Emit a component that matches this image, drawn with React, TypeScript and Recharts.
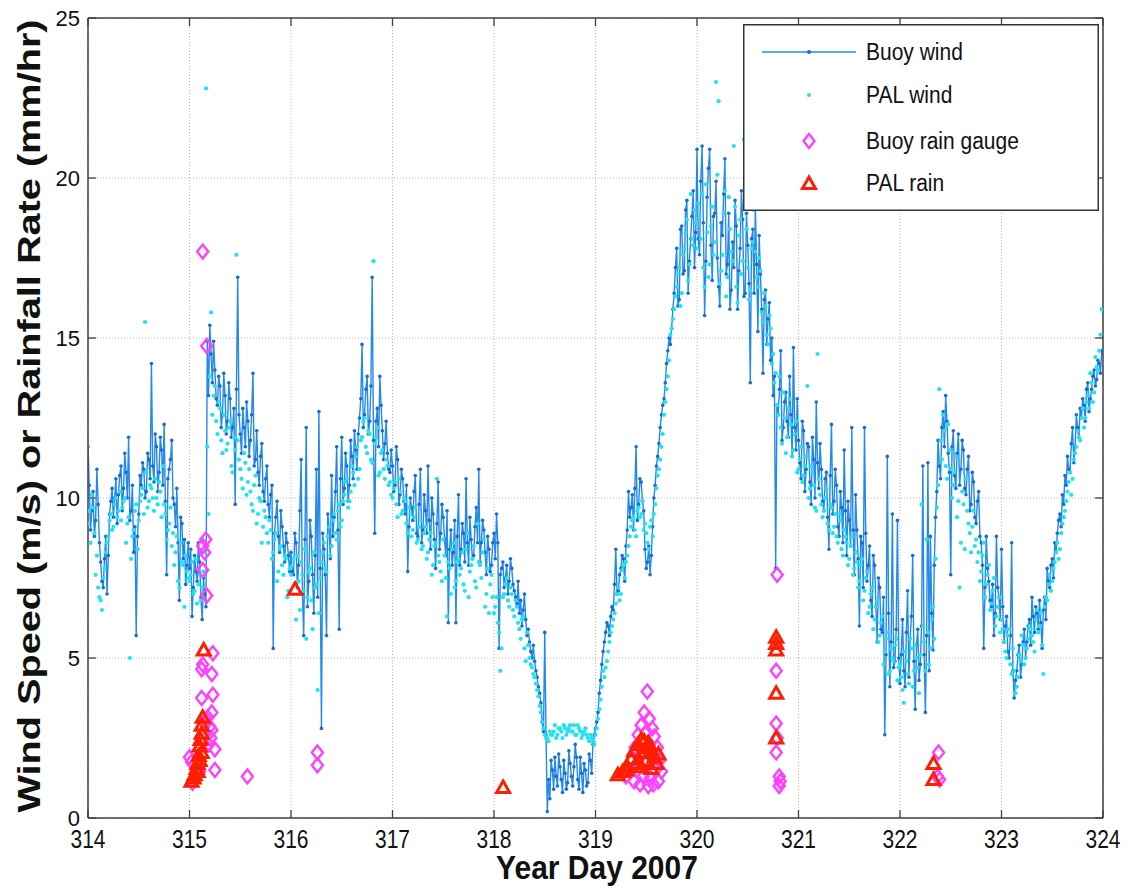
import React from 'react';
import { ComposedChart, Line, Scatter, XAxis, YAxis, CartesianGrid, ReferenceLine } from 'recharts';

// ---------- data ----------
const STEP = 0.025;
const startDays = [314, 315, 316, 317, 318, 319, 320, 321, 322, 323];
const xTicks = [314, 315, 316, 317, 318, 319, 320, 321, 322, 323, 324];
const yTicks = [0, 5, 10, 15, 20, 25];

// Buoy wind (m/s), samples at day + k*0.025
const buoy314 = [11.6, 9.0, 10.2, 9.3, 9.8, 8.0, 7.2, 8.8, 8.2, 9.9, 9.4, 10.6, 10.1, 11.0, 10.3, 10.8, 11.9, 9.6, 8.3, 5.7, 9.5, 10.4, 10.9, 10.2, 11.2, 14.2, 10.5, 11.6, 10.8, 11.5, 12.3, 7.6, 10.9, 11.8, 9.8, 10.3, 6.8, 9.2, 8.7, 7.9];
const buoy315 = [7.8, 6.3, 8.2, 7.4, 8.0, 6.2, 7.0, 14.9, 15.4, 13.6, 14.0, 12.9, 13.5, 12.6, 13.2, 12.4, 13.1, 12.2, 9.8, 16.9, 12.0, 12.8, 11.6, 12.4, 11.8, 13.9, 11.2, 10.8, 11.3, 10.2, 10.6, 9.8, 10.1, 5.3, 9.4, 8.8, 9.6, 8.5, 8.9, 8.2];
const buoy316 = [8.3, 7.6, 8.6, 7.9, 11.2, 5.7, 12.2, 7.4, 8.8, 6.4, 10.9, 12.7, 2.8, 8.4, 5.7, 9.1, 10.7, 9.4, 11.6, 5.9, 11.9, 10.3, 11.0, 10.4, 11.3, 12.1, 10.9, 12.5, 14.8, 12.6, 13.8, 12.4, 16.9, 8.9, 12.8, 13.8, 12.1, 11.7, 11.4, 10.8];
const buoy317 = [11.0, 10.4, 11.2, 10.1, 10.6, 9.5, 7.7, 10.0, 9.3, 10.7, 8.8, 10.9, 9.0, 9.6, 11.0, 8.4, 9.5, 7.8, 10.5, 8.9, 9.4, 8.2, 6.1, 9.0, 8.3, 6.1, 10.1, 8.4, 8.9, 10.6, 7.9, 8.7, 8.2, 9.7, 10.9, 8.6, 9.0, 7.6, 8.4, 7.9];
const buoy318 = [8.9, 9.5, 5.3, 7.8, 7.2, 7.9, 7.4, 7.8, 7.1, 6.7, 6.4, 6.0, 7.0, 5.7, 5.5, 5.0, 4.9, 4.4, 3.9, 3.0, 5.8, 0.2, 0.6, 1.5, 1.9, 1.0, 1.6, 0.8, 1.4, 1.1, 1.7, 1.0, 2.3, 1.2, 1.9, 0.8, 1.5, 1.1, 1.8, 2.3];
const buoy319 = [2.8, 3.3, 4.3, 5.2, 5.8, 6.0, 6.3, 6.5, 8.4, 7.1, 7.8, 8.1, 8.5, 10.2, 9.7, 9.0, 11.6, 9.8, 10.5, 9.6, 7.8, 8.5, 8.2, 10.0, 11.0, 11.7, 12.6, 13.1, 14.2, 15.0, 15.3, 16.4, 17.8, 16.2, 18.5, 17.1, 19.3, 17.4, 18.8, 17.2];
const buoy320 = [20.9, 17.6, 21.0, 15.7, 19.4, 20.9, 16.8, 18.9, 17.5, 16.0, 18.2, 20.6, 17.3, 15.9, 18.0, 19.3, 15.9, 17.8, 18.7, 16.4, 17.9, 13.6, 18.4, 19.1, 15.2, 17.0, 13.9, 16.5, 15.6, 14.3, 13.2, 7.8, 12.6, 14.6, 12.2, 13.3, 11.9, 12.6, 14.7, 11.5];
const buoy321 = [11.8, 10.6, 12.1, 10.9, 11.6, 9.8, 11.2, 13.0, 10.3, 10.9, 9.6, 10.8, 8.4, 12.3, 9.9, 10.4, 8.8, 9.7, 11.5, 8.2, 9.3, 12.2, 7.6, 9.0, 6.0, 8.6, 12.2, 7.4, 8.5, 6.3, 7.9, 5.5, 7.2, 5.8, 2.6, 11.3, 4.1, 9.5, 4.9, 9.3];
const buoy322 = [4.2, 6.2, 4.1, 7.1, 5.6, 8.2, 3.4, 5.9, 4.8, 11.0, 3.3, 11.1, 8.8, 5.25, 9.4, 11.8, 10.6, 12.7, 13.2, 11.4, 7.6, 12.1, 10.3, 12.0, 10.9, 11.5, 10.1, 11.3, 9.8, 10.5, 9.2, 10.2, 8.6, 5.3, 8.8, 7.4, 6.6, 5.7, 8.8, 6.9];
const buoy323 = [8.4, 5.5, 6.3, 5.0, 8.6, 3.75, 4.6, 5.4, 4.8, 5.9, 5.5, 6.2, 6.9, 5.8, 6.4, 6.8, 5.3, 6.9, 7.8, 7.2, 8.1, 8.6, 8.9, 9.5, 10.1, 10.7, 11.3, 10.8, 12.2, 11.6, 12.2, 12.8, 13.1, 12.4, 13.6, 13.1, 13.8, 13.5, 14.3, 13.9];
const buoyLast = 14.5;

// Buoy wind (m/s), samples at day + 0.0125 + k*0.025
const buoyMid314 = [10.4, 9.6, 8.8, 10.9, 8.6, 7.4, 8.1, 7.0, 9.5, 10.3, 10.0, 9.2, 10.7, 9.6, 11.4, 10.0, 9.3, 10.4, 9.1, 8.8, 10.7, 11.1, 10.0, 11.4, 10.6, 11.0, 12.0, 10.2, 11.9, 10.4, 9.9, 10.6, 11.2, 10.0, 9.1, 8.6, 9.4, 8.1, 7.3, 8.6];
const buoyMid315 = [8.4, 7.2, 7.7, 8.6, 6.9, 7.5, 6.6, 13.2, 14.5, 14.9, 13.1, 13.8, 12.2, 13.9, 12.0, 13.6, 11.9, 12.8, 13.4, 12.6, 11.4, 12.2, 13.0, 11.3, 12.6, 11.0, 12.1, 10.4, 11.7, 9.9, 11.0, 9.4, 10.4, 8.9, 9.9, 8.3, 9.1, 8.0, 8.6, 7.7];
const buoyMid316 = [7.7, 8.9, 7.2, 9.6, 7.0, 8.7, 6.6, 9.3, 7.6, 8.2, 6.9, 7.8, 8.9, 7.6, 9.5, 8.1, 8.8, 10.2, 9.0, 10.6, 9.8, 11.4, 9.9, 11.8, 10.6, 11.5, 12.0, 13.1, 12.2, 13.4, 12.0, 13.5, 11.8, 12.4, 11.6, 12.9, 11.2, 12.4, 10.9, 11.5];
const buoyMid317 = [10.2, 11.6, 9.8, 10.9, 9.9, 10.4, 9.1, 9.7, 10.2, 8.9, 9.8, 8.6, 10.1, 8.9, 9.3, 10.0, 8.7, 9.2, 8.4, 9.8, 8.7, 9.6, 8.4, 7.9, 9.3, 8.8, 7.9, 9.2, 8.0, 8.6, 9.4, 8.1, 9.1, 8.6, 8.0, 9.3, 8.3, 8.8, 7.7, 8.6];
const buoyMid318 = [8.1, 8.6, 7.6, 8.0, 7.5, 7.0, 8.1, 7.3, 6.9, 7.4, 6.8, 6.5, 6.2, 5.9, 5.2, 5.4, 4.6, 4.1, 3.6, 2.7, 2.6, 1.2, 1.8, 0.9, 1.3, 2.0, 1.2, 1.8, 0.9, 2.1, 1.3, 1.6, 1.9, 0.9, 1.4, 1.7, 1.0, 2.0, 1.4, 2.6];
const buoyMid319 = [3.0, 3.9, 4.8, 5.5, 6.1, 5.7, 6.6, 7.3, 7.0, 7.6, 8.2, 7.4, 9.0, 9.4, 10.1, 10.3, 9.3, 10.6, 9.9, 8.4, 8.0, 7.6, 9.1, 10.4, 11.3, 12.2, 12.9, 13.6, 14.6, 14.8, 15.9, 17.2, 16.0, 18.4, 17.0, 19.0, 16.4, 18.1, 19.6, 18.3];
const buoyMid320 = [18.1, 19.9, 18.6, 17.4, 20.3, 17.9, 18.8, 19.9, 16.6, 18.6, 19.5, 17.0, 18.9, 16.5, 17.2, 18.5, 17.1, 19.6, 16.3, 18.9, 16.7, 18.1, 16.4, 17.3, 18.2, 15.9, 16.2, 14.8, 16.1, 15.0, 13.8, 12.9, 13.4, 11.8, 13.0, 12.4, 13.8, 11.3, 12.2, 13.1];
const buoyMid321 = [11.1, 12.4, 10.2, 11.7, 10.5, 11.9, 10.0, 11.1, 11.7, 9.9, 10.6, 9.4, 10.7, 9.5, 10.9, 9.1, 10.2, 8.6, 9.6, 9.9, 8.5, 9.0, 10.1, 8.1, 8.8, 7.2, 8.9, 7.9, 6.8, 8.2, 6.6, 7.5, 5.9, 6.9, 5.1, 6.4, 5.5, 4.7, 5.9, 5.0];
const buoyMid322 = [5.1, 4.6, 5.8, 4.4, 6.3, 4.9, 5.4, 4.3, 6.0, 5.1, 5.7, 4.6, 6.4, 7.9, 10.2, 11.0, 12.2, 11.6, 12.4, 10.8, 11.6, 10.7, 11.4, 10.4, 11.8, 10.3, 10.9, 9.6, 10.8, 9.4, 9.9, 8.8, 7.9, 7.2, 7.8, 6.8, 7.3, 6.4, 7.2, 6.2];
const buoyMid323 = [6.6, 6.0, 5.2, 5.7, 4.6, 4.3, 5.1, 4.4, 5.5, 5.0, 6.0, 5.4, 6.3, 6.6, 5.9, 6.1, 6.5, 6.2, 7.4, 7.9, 7.5, 8.3, 9.3, 9.1, 9.8, 10.4, 10.9, 11.7, 11.1, 12.6, 11.9, 12.5, 12.9, 13.4, 12.7, 13.4, 14.0, 13.7, 14.2, 14.6];

// PAL wind (m/s), samples at day + 0.0125 + k*0.025
const pal314 = [9.6, 10.1, 8.9, 8.2, 6.9, 6.5, 7.8, 8.6, 9.3, 9.0, 9.8, 9.4, 10.2, 9.7, 10.0, 9.2, 5.0, 8.8, 9.6, 8.4, 9.9, 10.3, 15.5, 9.7, 10.4, 10.0, 10.6, 9.8, 10.2, 11.0, 9.5, 9.0, 9.7, 8.9, 8.3, 7.4, 8.6, 7.9, 8.2, 7.5];
const pal315 = [7.6, 7.0, 8.1, 7.3, 6.8, 7.7, 22.8, 9.5, 15.8, 13.2, 12.4, 13.0, 11.8, 12.6, 11.5, 12.2, 11.0, 11.9, 17.6, 11.2, 10.6, 11.4, 10.1, 10.9, 9.8, 10.4, 9.2, 10.0, 8.6, 9.6, 8.9, 9.3, 8.1, 8.7, 7.4, 8.4, 7.9, 8.2, 6.9, 7.8];
const pal316 = [7.9, 7.3, 8.2, 6.5, 7.6, 8.4, 6.9, 7.8, 5.9, 7.2, 4.0, 7.5, 8.3, 7.8, 8.8, 8.2, 9.3, 8.9, 9.6, 9.1, 9.9, 10.5, 9.7, 10.2, 10.8, 11.3, 10.6, 11.8, 12.4, 11.6, 12.1, 11.2, 17.4, 11.9, 10.7, 11.4, 10.9, 11.2, 10.4, 10.1];
const pal317 = [10.3, 9.8, 10.6, 9.5, 10.0, 9.2, 9.7, 8.8, 9.4, 8.6, 9.1, 8.4, 8.9, 8.1, 8.7, 7.6, 8.5, 10.6, 8.0, 7.4, 8.2, 6.3, 7.8, 8.4, 7.2, 8.0, 7.6, 8.3, 7.1, 8.9, 7.7, 8.1, 7.4, 9.2, 7.9, 8.3, 6.6, 7.8, 7.3, 6.9];
const pal318 = [6.6, 6.1, 4.6, 6.9, 7.3, 6.8, 7.2, 6.5, 6.8, 6.1, 5.6, 6.3, 4.9, 5.4, 4.8, 4.5, 4.2, 3.8, 3.3, 2.8, 2.5, 2.4, 2.6, 2.7, 2.5, 2.8, 2.7, 2.9, 2.6, 2.8, 2.7, 2.9, 2.6, 2.8, 2.5, 2.7, 2.6, 2.4, 2.5, 2.3];
const pal319 = [2.8, 3.4, 4.1, 4.4, 4.9, 5.5, 6.0, 6.4, 7.0, 6.8, 7.75, 7.5, 8.2, 8.8, 9.3, 9.0, 9.6, 9.4, 9.9, 9.2, 8.6, 9.1, 8.8, 9.8, 10.7, 11.2, 12.0, 13.0, 13.8, 15.1, 15.6, 16.3, 17.0, 16.0, 17.6, 18.3, 16.8, 19.5, 17.9, 18.6];
const pal320 = [19.2, 18.1, 17.2, 19.8, 16.9, 18.5, 17.6, 23.0, 22.4, 17.1, 18.9, 16.3, 19.4, 17.7, 21.0, 16.6, 18.2, 17.0, 21.2, 18.4, 16.2, 17.8, 19.0, 16.9, 17.5, 15.8, 16.4, 15.1, 15.7, 14.2, 13.6, 12.9, 13.8, 11.7, 12.5, 11.9, 13.1, 11.3, 12.0, 10.8];
const pal321 = [11.2, 10.5, 11.0, 13.5, 10.3, 10.8, 9.7, 14.5, 10.1, 9.4, 10.0, 9.2, 9.8, 8.9, 9.5, 8.6, 9.3, 8.2, 8.8, 7.9, 8.5, 7.6, 8.3, 7.2, 7.9, 6.8, 7.5, 6.4, 7.0, 5.9, 6.6, 5.5, 6.1, 4.8, 5.6, 4.5, 5.3, 4.9, 5.6, 4.7];
const pal322 = [4.4, 3.6, 4.9, 4.2, 5.3, 4.6, 5.0, 3.9, 9.8, 5.5, 8.7, 4.8, 6.2, 5.6, 9.7, 13.4, 11.2, 12.1, 10.6, 11.5, 10.0, 10.8, 9.4, 7.2, 10.2, 8.4, 9.6, 8.9, 9.1, 8.5, 8.0, 7.4, 8.2, 6.9, 7.6, 6.5, 7.1, 6.0, 6.6, 5.8];
const pal323 = [5.9, 5.2, 5.7, 4.8, 5.3, 3.9, 4.4, 4.9, 5.4, 5.0, 5.6, 5.9, 5.5, 6.2, 5.8, 6.4, 4.5, 6.9, 7.3, 7.1, 7.8, 8.3, 8.1, 8.9, 9.4, 9.9, 10.5, 10.1, 11.2, 11.6, 11.9, 12.5, 12.2, 13.0, 12.8, 13.6, 13.3, 14.1, 14.6, 15.9];

// PAL wind (m/s), samples at day + k*0.025
const palB314 = [9.2, 8.6, 9.7, 7.6, 7.2, 6.8, 7.5, 8.3, 8.8, 9.5, 9.1, 10.0, 9.6, 9.3, 9.9, 8.6, 9.4, 8.1, 9.0, 9.8, 9.3, 10.1, 9.5, 10.8, 9.9, 10.3, 9.6, 10.0, 10.5, 9.4, 9.8, 8.7, 9.2, 8.5, 7.9, 8.8, 7.2, 8.0, 6.6, 7.7];
const palB315 = [7.4, 8.0, 7.1, 6.7, 7.6, 7.2, 8.3, 11.6, 13.8, 12.6, 13.5, 12.0, 12.8, 11.4, 12.1, 11.7, 12.4, 10.8, 11.5, 11.8, 10.9, 10.3, 11.1, 10.5, 10.2, 9.6, 10.7, 9.5, 9.9, 9.1, 9.4, 8.6, 9.0, 8.3, 8.9, 7.7, 8.5, 7.6, 8.1, 7.1];
const palB316 = [7.6, 8.1, 6.2, 7.4, 8.0, 7.1, 5.6, 7.7, 6.8, 8.3, 7.3, 6.4, 8.0, 8.6, 7.7, 9.1, 8.5, 9.5, 8.7, 9.8, 9.3, 10.1, 10.6, 9.9, 11.0, 10.4, 11.6, 10.9, 11.9, 12.5, 11.4, 12.0, 11.1, 11.7, 12.2, 10.8, 11.5, 10.6, 11.0, 10.5];
const palB317 = [10.0, 10.5, 9.4, 10.2, 9.6, 9.9, 8.9, 9.5, 9.0, 9.7, 8.7, 9.3, 8.5, 9.1, 8.3, 8.9, 7.9, 8.6, 8.2, 7.7, 8.7, 7.5, 8.0, 7.0, 8.6, 7.4, 8.1, 7.8, 7.3, 8.4, 6.9, 7.9, 8.5, 7.2, 8.0, 7.5, 8.7, 7.0, 6.4, 7.6];
const palB318 = [6.4, 6.9, 5.8, 5.3, 7.0, 7.5, 6.6, 7.0, 6.3, 6.6, 5.9, 6.2, 5.3, 5.8, 5.0, 4.7, 4.4, 4.0, 3.5, 3.0, 2.6, 2.5, 2.7, 2.6, 2.9, 2.6, 2.8, 2.5, 2.8, 2.7, 2.9, 2.7, 2.6, 2.9, 2.7, 2.6, 2.8, 2.5, 2.6, 2.4];
const palB319 = [2.6, 3.1, 3.7, 4.6, 4.7, 5.2, 5.8, 6.2, 6.7, 7.2, 7.0, 7.9, 8.0, 8.5, 9.1, 9.4, 8.8, 9.7, 9.5, 9.0, 8.9, 8.4, 9.3, 9.5, 10.3, 10.9, 11.6, 12.6, 13.4, 14.3, 15.3, 15.9, 16.6, 17.2, 16.4, 17.8, 18.7, 17.3, 18.1, 19.0];
const palB320 = [17.8, 18.8, 19.5, 16.6, 18.3, 17.3, 19.1, 18.0, 20.1, 16.7, 17.6, 19.6, 16.9, 18.4, 17.4, 19.1, 16.1, 18.7, 17.4, 19.8, 17.2, 16.5, 18.0, 17.7, 16.6, 17.1, 15.5, 16.0, 14.8, 15.3, 14.5, 13.9, 12.6, 12.2, 13.3, 11.4, 12.8, 12.3, 11.5, 12.4];
const palB321 = [10.9, 11.6, 10.7, 11.3, 10.0, 11.0, 10.4, 9.6, 10.6, 9.8, 9.6, 10.3, 9.0, 9.7, 9.1, 8.8, 9.5, 8.4, 9.0, 8.6, 8.1, 8.8, 7.8, 8.0, 7.4, 8.1, 7.1, 7.7, 6.6, 7.2, 6.2, 6.8, 5.7, 6.3, 5.2, 5.8, 4.6, 5.0, 5.4, 4.3];
const palB322 = [4.8, 4.0, 5.2, 4.5, 5.6, 4.1, 5.4, 4.7, 5.1, 6.0, 4.6, 5.8, 5.3, 6.6, 8.1, 10.4, 11.8, 12.6, 11.0, 12.3, 10.9, 10.4, 11.3, 9.9, 8.6, 9.8, 10.6, 9.2, 8.3, 9.6, 8.7, 8.3, 7.7, 8.6, 7.3, 7.9, 6.7, 7.5, 6.3, 6.9];
const palB323 = [6.2, 5.5, 5.0, 5.9, 4.5, 4.6, 4.1, 5.1, 5.7, 4.8, 5.3, 6.0, 5.7, 5.2, 6.5, 6.0, 5.4, 6.6, 6.8, 7.6, 7.4, 8.0, 8.6, 8.4, 9.2, 9.6, 10.2, 10.8, 10.6, 11.4, 12.1, 11.8, 12.8, 12.5, 13.2, 13.9, 13.0, 14.4, 14.0, 15.1];

// Buoy rain gauge (mm/hr)
const gaugeDays = [315.13, 315.17, 315.16, 315.13, 315.15, 315.13, 315.17, 315.23, 315.13, 315.12, 315.22, 315.23, 315.12, 315.22, 315.20, 315.22, 315.21, 315.19, 315.25, 315.16, 315.18, 315.00, 315.02, 315.08, 315.10, 315.25, 315.03, 315.06, 315.57, 316.26, 316.26, 319.51, 319.48, 319.53, 319.45, 319.56, 319.50, 319.42, 319.58, 319.47, 319.53, 319.39, 319.61, 319.44, 319.56, 319.36, 319.63, 319.50, 319.33, 319.41, 319.59, 319.65, 319.47, 319.54, 319.30, 319.38, 319.62, 319.44, 319.52, 319.57, 320.79, 320.78, 320.78, 320.79, 320.78, 320.81, 320.82, 320.81, 322.38, 322.37, 322.39];
const gaugeRates = [17.7, 14.75, 8.7, 8.5, 8.3, 7.75, 6.95, 5.15, 4.8, 4.65, 4.5, 3.85, 3.75, 3.3, 2.85, 2.75, 2.5, 2.3, 2.15, 2.95, 3.15, 1.9, 1.75, 1.65, 1.45, 1.5, 1.1, 1.25, 1.3, 2.05, 1.65, 3.95, 3.3, 3.1, 2.9, 2.8, 2.7, 2.6, 2.55, 2.4, 2.3, 2.2, 2.2, 2.0, 1.95, 1.8, 1.8, 1.7, 1.5, 1.5, 1.5, 1.45, 1.3, 1.25, 1.3, 1.15, 1.15, 1.05, 1.0, 1.05, 7.6, 4.6, 2.95, 2.5, 2.05, 1.3, 1.15, 1.0, 2.05, 1.3, 1.2];

// PAL rain (mm/hr)
const palRainDays = [315.14, 315.13, 315.12, 315.12, 315.11, 315.10, 315.12, 315.09, 315.10, 315.08, 315.07, 315.08, 315.05, 315.04, 315.02, 316.04, 318.09, 319.22, 319.27, 319.31, 319.35, 319.38, 319.42, 319.45, 319.48, 319.50, 319.52, 319.55, 319.58, 319.60, 319.49, 319.45, 319.40, 319.55, 319.62, 319.47, 319.30, 320.78, 320.78, 320.78, 320.78, 320.78, 322.33, 322.33];
const palRainRates = [5.25, 3.15, 2.9, 2.65, 2.45, 2.25, 2.05, 1.95, 1.8, 1.7, 1.55, 1.45, 1.35, 1.25, 1.15, 7.15, 0.95, 1.35, 1.45, 1.6, 1.85, 2.1, 2.3, 2.45, 2.4, 2.2, 2.35, 2.1, 1.9, 1.7, 1.8, 1.6, 1.7, 1.55, 2.0, 2.05, 1.5, 5.65, 5.45, 5.25, 3.9, 2.5, 1.7, 1.2];

// ---------- build tables ----------
const buoyByDay = [buoy314, buoy315, buoy316, buoy317, buoy318, buoy319, buoy320, buoy321, buoy322, buoy323];
const buoyMidByDay = [buoyMid314, buoyMid315, buoyMid316, buoyMid317, buoyMid318, buoyMid319, buoyMid320, buoyMid321, buoyMid322, buoyMid323];
const palByDay = [pal314, pal315, pal316, pal317, pal318, pal319, pal320, pal321, pal322, pal323];
const palBByDay = [palB314, palB315, palB316, palB317, palB318, palB319, palB320, palB321, palB322, palB323];

const onGrid = (rows: number[][], offset: number) =>
  startDays.flatMap((day, i) => rows[i].map((v, k) => ({ d: day + offset + k * STEP, v })));

const buoyData = [...onGrid(buoyByDay, 0), ...onGrid(buoyMidByDay, STEP / 2), { d: 324, v: buoyLast }].sort((a, b) => a.d - b.d);
const palData = [...onGrid(palByDay, STEP / 2), ...onGrid(palBByDay, 0)];
const gaugeData = gaugeDays.map((d, i) => ({ d, v: gaugeRates[i] }));
const palRainData = palRainDays.map((d, i) => ({ d, v: palRainRates[i] }));

// ---------- styles ----------
const FONT = '"Liberation Sans", Arial, Helvetica, sans-serif';
const BLUE = '#2389ea';
const BLUE_DOT = '#1a6cd4';
const CYAN = '#1fe3ee';
const MAGENTA = '#ff40ff';
const RED = '#ff1e00';
const FRAME = '#404040';

const W = 1134;
const H = 886;

const PalDot = (p: any) => <circle cx={p.cx} cy={p.cy} r={2.1} fill={CYAN} />;
const Diamond = (p: any) => {
  const { cx, cy } = p;
  return <polygon points={`${cx},${cy - 7} ${cx + 5.5},${cy} ${cx},${cy + 7} ${cx - 5.5},${cy}`} fill="none" stroke={MAGENTA} strokeWidth={2.4} />;
};
const Tri = (p: any) => {
  const { cx, cy } = p;
  return <polygon points={`${cx},${cy - 6.5} ${cx + 6.5},${cy + 5} ${cx - 6.5},${cy + 5}`} fill="none" stroke={RED} strokeWidth={3} />;
};

const XTick = (p: any) => (
  <g transform={`translate(${p.x},${p.y}) scale(1,1.22)`}>
    <text x={0} y={23} textAnchor="middle" fontSize={21} fontFamily={FONT} fill="#111">{p.payload.value}</text>
  </g>
);
const YTick = (p: any) => (
  <text x={p.x - 6} y={p.y} dy="0.36em" textAnchor="end" fontSize={22} fontFamily={FONT} fill="#111">{p.payload.value}</text>
);

const legendRows = ['Buoy wind', 'PAL wind', 'Buoy rain gauge', 'PAL rain'];
const legendRowY = [28, 71, 117, 159];

const Legend = () => (
  <svg width={356} height={187} style={{ position: 'absolute', left: 743, top: 24 }}>
    <rect x={0.75} y={0.75} width={354.5} height={185.5} fill="#fff" stroke="#333" strokeWidth={1.5} />
    <line x1={19} y1={28} x2={113} y2={28} stroke={BLUE} strokeWidth={1.3} />
    <circle cx={66} cy={28} r={2} fill={BLUE_DOT} />
    <circle cx={66} cy={71} r={2} fill={CYAN} />
    <polygon points="66,110 71.5,117 66,124 60.5,117" fill="none" stroke={MAGENTA} strokeWidth={2.4} />
    <polygon points="66,153 72.5,164.5 59.5,164.5" fill="none" stroke={RED} strokeWidth={3} />
    {legendRows.map((t, i) => (
      <g key={t} transform={`translate(123,${legendRowY[i] + 8}) scale(1,1.1)`}>
        <text x={0} y={0} fontSize={21} fontFamily={FONT} fill="#111">{t}</text>
      </g>
    ))}
  </svg>
);

export default function App() {
  return (
    <div style={{ position: 'relative', width: W, height: H, marginTop: -8, marginLeft: -8, background: '#fff' }}>
      <ComposedChart width={W} height={H} margin={{ top: 18, right: 31, bottom: 0, left: 0 }}>
        <CartesianGrid stroke="#b8b8b8" strokeDasharray="1 2" />
        <XAxis dataKey="d" type="number" domain={[314, 324]} ticks={xTicks} allowDataOverflow
          height={68} tickSize={0} tickLine={false} tick={<XTick />} axisLine={{ stroke: FRAME, strokeWidth: 1.5 }} interval={0} />
        <YAxis type="number" domain={[0, 25]} ticks={yTicks} allowDataOverflow width={88}
          tickSize={0} tickLine={false} tick={<YTick />} axisLine={{ stroke: FRAME, strokeWidth: 1.5 }} interval={0} />
        <ReferenceLine y={25} stroke={FRAME} strokeWidth={1.5} />
        <ReferenceLine x={324} stroke={FRAME} strokeWidth={1.5} />
        {xTicks.map((t) => (
          <ReferenceLine key={'xb' + t} segment={[{ x: t, y: 0 }, { x: t, y: 0.25 }]} stroke={FRAME} strokeWidth={1.3} />
        ))}
        {xTicks.map((t) => (
          <ReferenceLine key={'xt' + t} segment={[{ x: t, y: 25 }, { x: t, y: 24.75 }]} stroke={FRAME} strokeWidth={1.3} />
        ))}
        {yTicks.map((t) => (
          <ReferenceLine key={'yl' + t} segment={[{ x: 314, y: t }, { x: 314.08, y: t }]} stroke={FRAME} strokeWidth={1.3} />
        ))}
        {yTicks.map((t) => (
          <ReferenceLine key={'yr' + t} segment={[{ x: 324, y: t }, { x: 323.92, y: t }]} stroke={FRAME} strokeWidth={1.3} />
        ))}
        <Line data={buoyData} dataKey="v" type="linear" stroke={BLUE} strokeWidth={1.4}
          dot={{ r: 1.8, fill: BLUE_DOT, stroke: 'none' }} isAnimationActive={false} />
        <Scatter data={palData} dataKey="v" shape={PalDot} isAnimationActive={false} />
        <Scatter data={gaugeData} dataKey="v" shape={Diamond} isAnimationActive={false} />
        <Scatter data={palRainData} dataKey="v" shape={Tri} isAnimationActive={false} />
      </ComposedChart>
      <svg width={W} height={H} style={{ position: 'absolute', left: 0, top: 0, pointerEvents: 'none' }}>
        <g transform="translate(29,416) scale(1,1.28) rotate(-90)">
          <text x={0} y={0} textAnchor="middle" dy="0.36em" fontSize={31} fontWeight="bold" fontFamily={FONT} fill="#111">
            Wind Speed (m/s) or Rainfall Rate (mm/hr)
          </text>
        </g>
        <g transform="translate(597,879) scale(1,1.12)">
          <text x={0} y={0} textAnchor="middle" fontSize={30} fontWeight="bold" fontFamily={FONT} fill="#111">Year Day 2007</text>
        </g>
      </svg>
      <Legend />
    </div>
  );
}
